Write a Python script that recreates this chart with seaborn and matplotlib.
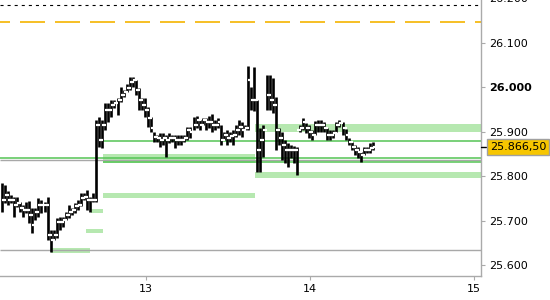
import numpy as np
import pandas as pd
import matplotlib
matplotlib.use("Agg")
import matplotlib.pyplot as plt
import matplotlib.transforms as mtransforms
import seaborn as sns

# ---------------- data ----------------
highs = [25.785, 25.781, 25.767, 25.758, 25.754, 25.754, 25.743, 25.736, 25.743, 25.745,
         25.729, 25.729, 25.752, 25.747, 25.743, 25.754, 25.680, 25.680, 25.707, 25.709,
         25.709, 25.720, 25.736, 25.729, 25.741, 25.747, 25.763, 25.763, 25.770, 25.754,
         25.763, 25.927, 25.934, 25.927, 25.965, 25.965, 25.972, 25.972, 25.976, 26.001,
         25.994, 26.008, 26.024, 26.024, 26.017, 25.999, 25.976, 25.976, 25.956, 25.934,
         25.900, 25.893, 25.898, 25.898, 25.893, 25.898, 25.893, 25.893, 25.893, 25.893,
         25.893, 25.911, 25.911, 25.934, 25.936, 25.927, 25.931, 25.931, 25.936, 25.940,
         25.927, 25.931, 25.916, 25.900, 25.904, 25.900, 25.904, 25.916, 25.927, 25.922,
         25.916, 26.048, 26.001, 26.046, 25.972, 25.909, 25.916, 26.028, 26.028, 26.021,
         25.979, 25.909, 25.900, 25.882, 25.875, 25.871, 25.868, 25.866, 25.916, 25.931,
         25.920, 25.916, 25.904, 25.925, 25.927, 25.927, 25.922, 25.909, 25.904, 25.904,
         25.922, 25.927, 25.922, 25.907, 25.886, 25.877, 25.871, 25.866, 25.855, 25.866,
         25.866, 25.875, 25.877]
lows = [25.720, 25.741, 25.736, 25.741, 25.709, 25.732, 25.720, 25.709, 25.718, 25.696,
        25.673, 25.702, 25.709, 25.718, 25.720, 25.657, 25.630, 25.657, 25.662, 25.680,
        25.687, 25.702, 25.707, 25.714, 25.718, 25.725, 25.734, 25.747, 25.725, 25.720,
        25.743, 25.743, 25.866, 25.864, 25.904, 25.922, 25.934, 25.954, 25.938, 25.967,
        25.979, 25.990, 25.994, 26.001, 25.983, 25.949, 25.949, 25.934, 25.911, 25.900,
        25.877, 25.877, 25.866, 25.871, 25.844, 25.875, 25.877, 25.864, 25.871, 25.871,
        25.877, 25.882, 25.886, 25.904, 25.909, 25.904, 25.916, 25.904, 25.909, 25.900,
        25.904, 25.909, 25.871, 25.882, 25.871, 25.877, 25.871, 25.889, 25.893, 25.889,
        25.904, 25.904, 25.949, 25.947, 25.810, 25.810, 25.844, 25.949, 25.949, 25.943,
        25.860, 25.871, 25.837, 25.830, 25.821, 25.842, 25.830, 25.803, 25.900, 25.904,
        25.898, 25.886, 25.882, 25.893, 25.900, 25.900, 25.900, 25.882, 25.882, 25.886,
        25.900, 25.911, 25.893, 25.882, 25.871, 25.860, 25.848, 25.842, 25.833, 25.848,
        25.853, 25.853, 25.860]
closes = [25.747, 25.758, 25.747, 25.747, 25.736, 25.741, 25.729, 25.725, 25.725, 25.714,
          25.691, 25.720, 25.736, 25.736, 25.736, 25.669, 25.657, 25.669, 25.698, 25.698,
          25.702, 25.714, 25.720, 25.725, 25.734, 25.736, 25.752, 25.754, 25.747, 25.747,
          25.747, 25.916, 25.882, 25.916, 25.949, 25.949, 25.961, 25.965, 25.972, 25.983,
          25.990, 25.999, 26.012, 26.017, 25.994, 25.972, 25.961, 25.949, 25.931, 25.909,
          25.889, 25.886, 25.882, 25.886, 25.882, 25.886, 25.886, 25.882, 25.882, 25.882,
          25.886, 25.904, 25.900, 25.916, 25.927, 25.916, 25.927, 25.922, 25.922, 25.916,
          25.916, 25.922, 25.882, 25.893, 25.886, 25.891, 25.893, 25.904, 25.911, 25.904,
          25.909, 26.017, 25.972, 25.972, 25.860, 25.882, 25.904, 25.983, 25.972, 25.961,
          25.904, 25.886, 25.871, 25.860, 25.860, 25.860, 25.860, 25.904, 25.909, 25.922,
          25.909, 25.900, 25.893, 25.916, 25.916, 25.916, 25.909, 25.893, 25.893, 25.898,
          25.916, 25.920, 25.909, 25.893, 25.877, 25.866, 25.860, 25.855, 25.848, 25.860,
          25.860, 25.864, 25.8665]
first_time = 12.122      # day of month (fractional) of the first bar
last_time = 14.384       # day of month (fractional) of the last bar

band_start = [12.421, 12.665, 12.634, 12.738, 12.738, 13.665, 13.665]
band_end = [12.659, 12.738, 12.738, 13.665, 13.665, 15.05, 15.05]
band_low = [25.628, 25.718, 25.673, 25.752, 25.831, 25.900, 25.796]
band_high = [25.639, 25.727, 25.682, 25.763, 25.851, 25.918, 25.810]

green_levels = [25.8409, 25.8320, 25.8790]
green_starts = [12.0, 12.738, 12.738]
gray_levels = [25.8364, 25.6350]
orange_level = 26.1465
dotted_level = 26.1850
last_price = 25.8665
last_price_label = "25.866,50"

y_ticks = [25.6, 25.7, 25.8, 25.9, 26.0, 26.1, 26.2]
y_tick_labels = ["25.600", "25.700", "25.800", "25.900", "26.000", "26.100", "26.200"]
x_ticks = [13, 14, 15]
x_tick_labels = ["13", "14", "15"]

# ---------------- styling ----------------
sns.set_theme(style="white")
plt.rcParams["font.family"] = ["DejaVu Sans"]
plt.rcParams["lines.scale_dashes"] = False

BAND = "#b6e8b0"
GREEN = "#55c455"
GRAY = "#a8a8a8"
ORANGE = "#f5b400"
AXCOL = "#aaaaaa"

fig = plt.figure(figsize=(5.5, 3.0), dpi=100)
fig.patch.set_facecolor("white")
ax = fig.add_axes([0.0, 24 / 300, 481 / 550, 279.8 / 300])
ax.set_facecolor("white")

x_min, x_max = 12.110, 15.043
y_min, y_max = 25.576, 26.205

# bands
for s, e, lo, hi in zip(band_start, band_end, band_low, band_high):
    ax.fill_between([s, e], [lo, lo], [hi, hi], color=BAND, lw=0, zorder=1)

# horizontal levels
for lvl in gray_levels:
    ax.hlines(lvl, x_min, x_max, color=GRAY, lw=1.0, zorder=2)
for lvl, s in zip(green_levels, green_starts):
    ax.hlines(lvl, s, x_max, color=GREEN, lw=1.1, zorder=2)
ax.plot([x_min, x_max], [orange_level] * 2, color=ORANGE, lw=1.2,
        linestyle=(10.8, (18.0, 7.2)), zorder=2)
ax.plot([x_min, x_max], [dotted_level] * 2, color="black", lw=0.8,
        linestyle=(0, (2.2, 2.9)), zorder=2)

# HLC bars
df = pd.DataFrame({"high": highs, "low": lows, "close": closes})
df["t"] = np.linspace(first_time, last_time, len(df))
ax.vlines(df["t"], df["low"], df["high"], color="black", lw=1.9, zorder=4)
sns.lineplot(data=df, x="t", y="close", linestyle="none", marker=1,
             markersize=2.6, markeredgewidth=1.6, color="black", ax=ax,
             zorder=5, legend=False, estimator=None, sort=False)

# axes
ax.set_xlim(x_min, x_max)
ax.set_ylim(y_min, y_max)
ax.set_xlabel("")
ax.set_ylabel("")
for side in ["top", "left"]:
    ax.spines[side].set_visible(False)
for side in ["right", "bottom"]:
    ax.spines[side].set_visible(True)
    ax.spines[side].set_color(AXCOL)
    ax.spines[side].set_linewidth(1.0)

ax.yaxis.tick_right()
ax.set_yticks(y_ticks)
ax.set_yticklabels(y_tick_labels)
ax.set_xticks(x_ticks)
ax.set_xticklabels(x_tick_labels)
ax.tick_params(axis="y", which="both", right=True, left=False, length=3.0,
               width=0.8, color=AXCOL, pad=3.0, labelsize=8, labelcolor="black")
ax.tick_params(axis="x", which="both", bottom=True, length=3.0, width=0.8,
               color=AXCOL, pad=2.5, labelsize=8, labelcolor="black")
for lbl in ax.get_yticklabels():
    if lbl.get_text() == "26.000":
        lbl.set_fontweight("bold")
ax.grid(False)

# last price marker + label
trans = mtransforms.blended_transform_factory(ax.transAxes, ax.transData)
ax.plot([1.0, 1.0 + 5 / 481], [last_price, last_price], transform=trans,
        color="black", lw=1.0, clip_on=False, zorder=6)
ax.text(1.0 + 9 / 481, last_price, last_price_label, transform=trans,
        ha="left", va="center", fontsize=8, color="black", zorder=7,
        bbox=dict(boxstyle="square,pad=0.28", fc="#f7c600", ec="#a0a0a0", lw=1.0),
        clip_on=False)

fig.savefig("out.png", dpi=100)
